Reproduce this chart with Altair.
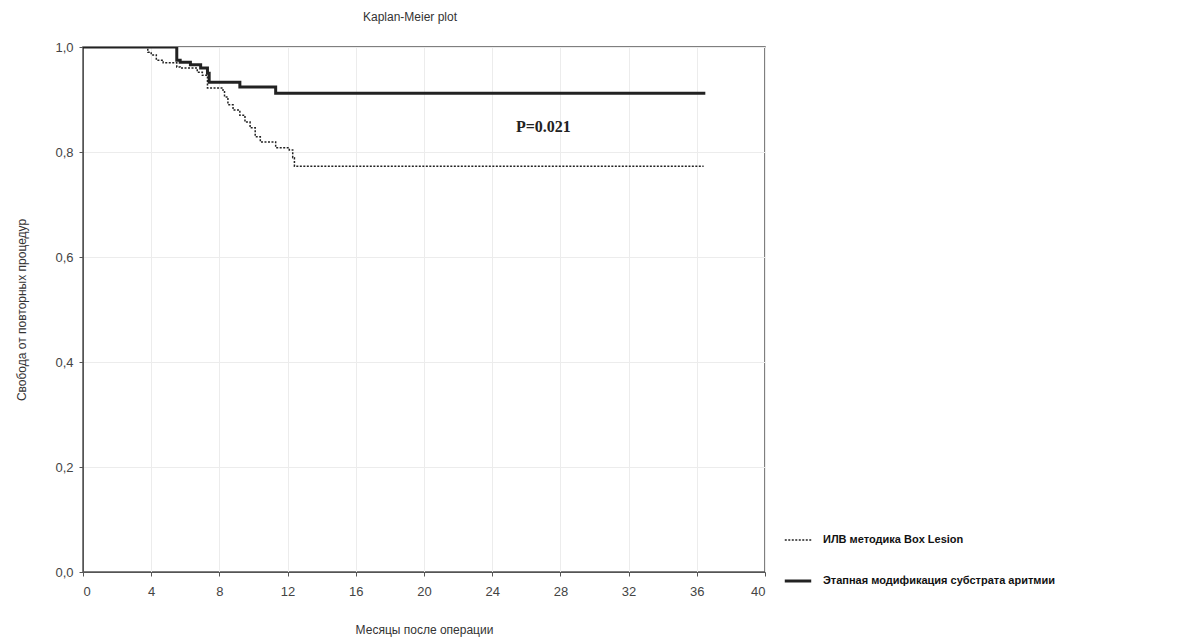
import altair as alt
import pandas as pd

# Series: ИЛВ методика Box Lesion (dotted)
t_box = [0, 3.8, 4.0, 4.3, 4.7, 5.5, 5.7, 6.7, 7.0, 7.3, 8.2, 8.3, 8.5, 8.8, 9.2, 9.5, 9.8, 10.1, 10.4, 11.3, 12.1, 12.3, 12.4, 36.4]
s_box = [1.0, 0.99, 0.985, 0.975, 0.97, 0.962, 0.96, 0.952, 0.946, 0.922, 0.918, 0.905, 0.89, 0.88, 0.87, 0.857, 0.846, 0.829, 0.819, 0.808, 0.804, 0.789, 0.773, 0.773]

# Series: Этапная модификация субстрата аритмии (solid)
t_step = [0, 4.8, 5.5, 5.7, 6.3, 6.9, 7.3, 7.4, 9.2, 11.3, 36.5]
s_step = [1.0, 1.0, 0.975, 0.971, 0.966, 0.96, 0.95, 0.933, 0.924, 0.912, 0.912]

series_names = ["ИЛВ методика Box Lesion", "Этапная модификация субстрата аритмии"]

x_ticks = [0, 4, 8, 12, 16, 20, 24, 28, 32, 36, 40]
y_ticks = [0.0, 0.2, 0.4, 0.6, 0.8, 1.0]

p_label = ["P=0.021"]
p_x = [27.0]
p_y = [0.848]

rows = []
for t, s in zip(t_box, s_box):
    rows.append({"t": t, "s": s, "series": series_names[0]})
for t, s in zip(t_step, s_step):
    rows.append({"t": t, "s": s, "series": series_names[1]})
df = pd.DataFrame(rows)

x_scale = alt.Scale(domain=[0, 40], nice=False, zero=False)
y_scale = alt.Scale(domain=[0, 1], nice=False)

font = "Liberation Sans"

legend_kw = dict(title=None, orient="none", legendX=700, legendY=479,
                 symbolType="stroke", symbolSize=700,
                 symbolStrokeColor="#222", labelFontSize=11,
                 labelFont=font, labelColor="#111",
                 labelFontWeight="bold", rowPadding=21,
                 labelOffset=10, labelLimit=400)

lines = alt.Chart(df).mark_line(interpolate="step-after", clip=True).encode(
    x=alt.X("t:Q", scale=x_scale,
            axis=alt.Axis(values=x_ticks, title="Месяцы после операции", grid=True,
                          gridColor="#ececec", gridWidth=1, tickSize=4,
                          labelPadding=9, titlePadding=26)),
    y=alt.Y("s:Q", scale=y_scale,
            axis=alt.Axis(values=y_ticks, title="Свобода от повторных процедур", grid=True,
                          gridColor="#ececec", gridWidth=1, tickSize=4,
                          labelExpr="replace(format(datum.value, '.1f'), '.', ',')",
                          labelPadding=6, titlePadding=26)),
    strokeDash=alt.StrokeDash("series:N",
                              scale=alt.Scale(domain=series_names, range=[[2, 1.5], [1, 0]]),
                              legend=alt.Legend(**legend_kw)),
    strokeWidth=alt.StrokeWidth("series:N",
                                scale=alt.Scale(domain=series_names, range=[1.5, 3]),
                                legend=alt.Legend(**legend_kw)),
    color=alt.value("#222222"),
)

ptext = alt.Chart(pd.DataFrame({"x": p_x, "y": p_y, "label": p_label})).mark_text(
    font="Liberation Serif", fontSize=16, fontWeight="bold", color="#222"
).encode(x=alt.X("x:Q", scale=x_scale), y=alt.Y("y:Q", scale=y_scale), text="label:N")

chart = alt.layer(lines, ptext).properties(
    width=682, height=525,
    background="white",
    title=alt.TitleParams("Kaplan-Meier plot", fontSize=12, font=font, fontWeight="normal",
                          color="#333", anchor="middle", offset=17, dx=-14),
    autosize=alt.AutoSizeParams(type="none"),
    padding={"left": 75, "top": 39, "right": 400, "bottom": 70},
).configure_view(stroke="#555", strokeWidth=1.5).configure_axis(
    labelFont=font, titleFont=font, labelFontSize=13, titleFontSize=12,
    labelColor="#444", titleColor="#333", titleFontWeight="normal",
    domainColor="#555", tickColor="#555",
)

chart.save("out.html", embed_options={"renderer": "svg", "actions": False})
